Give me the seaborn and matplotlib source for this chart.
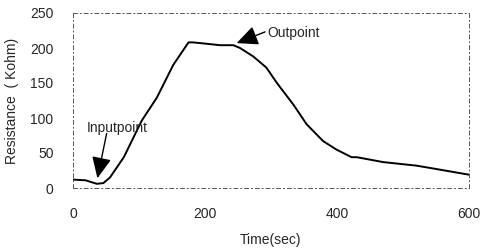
import pandas as pd
import matplotlib
matplotlib.use("Agg")
import matplotlib.pyplot as plt
import seaborn as sns

# values
time_sec = [0, 19, 36, 46, 56, 77, 104, 127, 152, 175, 182, 203, 223, 243, 253,
            273, 293, 309, 334, 354, 379, 399, 422, 430, 470, 520, 545, 600]
resistance = [12, 11, 6, 7, 15, 44, 96, 129, 176, 208, 208, 206, 204, 204, 200,
              188, 172, 150, 119, 91, 67, 55, 44, 44, 37, 32, 28, 19]

x_ticks = [0, 200, 400, 600]
y_ticks = [0, 50, 100, 150, 200, 250]

df = pd.DataFrame({"Time(sec)": time_sec, "Resistance": resistance})

sns.set_style("white")
plt.rcParams["font.family"] = ["Liberation Sans", "DejaVu Sans"]

fig = plt.figure(figsize=(4.82, 2.52), dpi=100)
ax = fig.add_axes([73 / 482, 1 - 188 / 252, 396 / 482, 175 / 252])

sns.lineplot(data=df, x="Time(sec)", y="Resistance", ax=ax,
             color="black", linewidth=1.4)

ax.set_xlim(0, 600)
ax.set_ylim(0, 250)
ax.set_xticks(x_ticks)
ax.set_yticks(y_ticks)
ax.tick_params(length=0, labelsize=10, pad=14)
ax.set_xlabel("Time(sec)", fontsize=10, labelpad=8)
ax.set_ylabel("Resistance  ( Kohm)", fontsize=10, labelpad=8)

# scanned-looking dotted frame
for s in ax.spines.values():
    s.set_linestyle((0, (4, 3, 1, 3)))
    s.set_color("#555555")
    s.set_linewidth(0.7)

arrow = dict(arrowstyle="-|>,head_length=1.3,head_width=0.6",
             color="black", lw=1.0, shrinkA=0, shrinkB=0)
ax.text(67, 86, "Inputpoint", fontsize=10, ha="center", va="center")
ax.annotate("", xy=(37, 14), xytext=(51, 78), arrowprops=arrow)
ax.text(295, 221, "Outpoint", fontsize=10, ha="left", va="center")
ax.annotate("", xy=(248, 207), xytext=(291, 223), arrowprops=arrow)

fig.savefig("out.png", dpi=100)
